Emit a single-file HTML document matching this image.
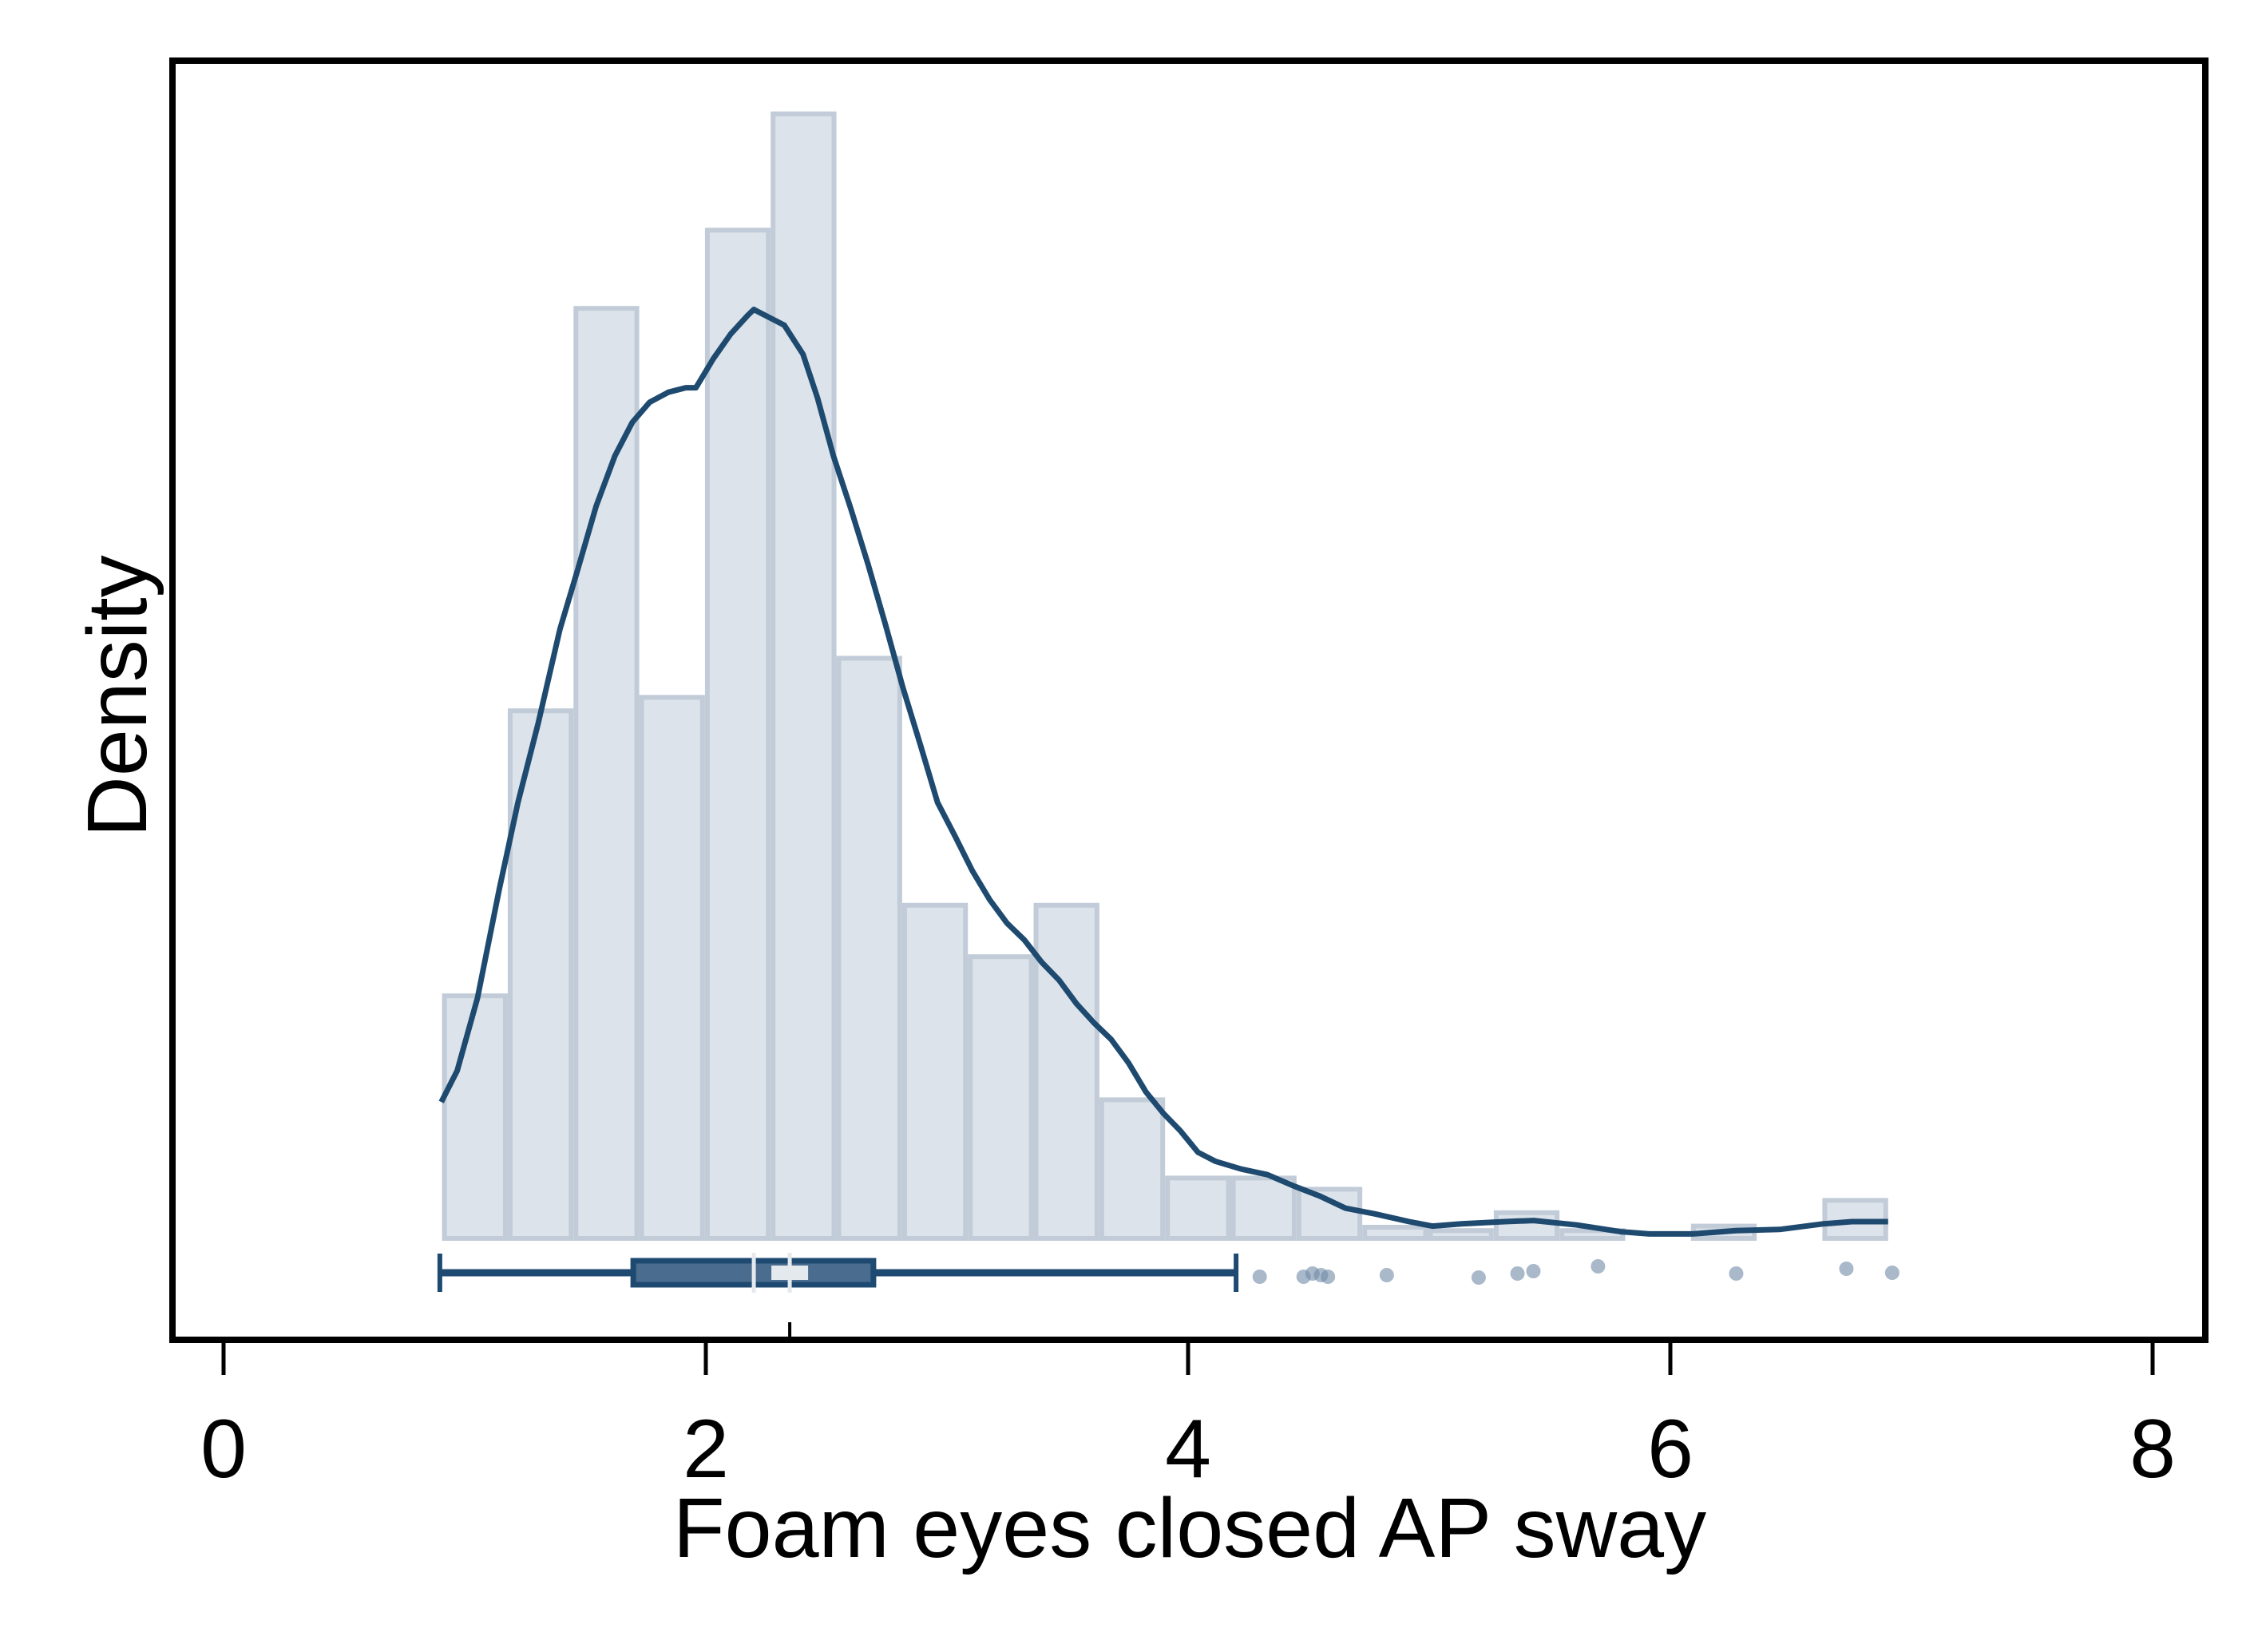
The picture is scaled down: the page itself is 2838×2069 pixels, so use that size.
<!DOCTYPE html>
<html><head><meta charset="utf-8"><style>
html,body{margin:0;padding:0;background:#fff;}
svg text{font-family:"Liberation Sans",sans-serif;fill:#000;}
</style></head><body>
<svg id="chart" width="2838" height="2064" viewBox="0 0 2838 2064" xmlns="http://www.w3.org/2000/svg">
<rect x="0" y="0" width="2838" height="2064" fill="#fff"/>
<g id="bars"></g>
<g id="kde"></g>
<g id="box"></g>
<g id="axes"></g>
<rect x="216" y="76" width="2546" height="1602" fill="none" stroke="#000" stroke-width="8"/>
<text x="1490" y="1950" font-size="106" text-anchor="middle">Foam eyes closed AP sway</text>
<text x="0" y="0" font-size="106" text-anchor="middle" transform="translate(183,872) rotate(-90)">Density</text>
</svg>
<script>
const binStart = 0.906;
const binWidth = 0.2726;
const binHeights = [21.7,47.2,83.2,48.4,90.2,100.6,51.9,29.8,25.2,29.8,12.4,5.4,5.4,4.4,1.0,0.7,2.3,0.7,0,1.1,0,3.4];
const kdeX = [0.903,0.969,1.053,1.143,1.221,1.305,1.395,1.467,1.545,1.623,1.695,1.767,1.845,1.917,1.959,2.031,2.103,2.175,2.199,2.271,2.325,2.403,2.463,2.529,2.601,2.673,2.745,2.817,2.889,2.961,3.033,3.105,3.177,3.249,3.321,3.393,3.465,3.537,3.609,3.681,3.753,3.825,3.897,3.969,4.041,4.113,4.221,4.329,4.437,4.545,4.653,4.773,4.917,5.013,5.133,5.313,5.433,5.613,5.793,5.913,6.093,6.273,6.453,6.633,6.753,6.903];
const kdeY = [12.2,15.0,21.5,31.2,39.0,46.1,54.5,59.7,65.5,70.0,73.0,74.8,75.7,76.1,76.1,78.7,80.9,82.6,83.1,82.3,81.7,79.1,75.2,70.0,65.3,60.3,54.9,49.3,44.2,39.0,36.0,32.9,30.3,28.2,26.7,24.7,23.1,21.0,19.3,17.8,15.7,13.1,11.2,9.6,7.7,6.9,6.2,5.7,4.7,3.8,2.7,2.2,1.5,1.1,1.3,1.5,1.6,1.2,0.6,0.4,0.4,0.7,0.8,1.3,1.5,1.5];
const boxStats = [0.897,1.699,2.199,2.695,4.199];
const meanValue = 2.348;
const outliers = [4.297,4.479,4.516,4.551,4.580,4.824,5.205,5.366,5.432,5.700,6.273,6.730,6.920];
const outlierJitter = [5,5,1,3,5,3,6,1,-2,-8,1,-5,0];
const xTicks = [0,2,4,6,8];

const NS = "http://www.w3.org/2000/svg";
const xs = v => 280 + v * 302;
const ys = v => 1551 - v * 14;
function mk(tag, attrs, parent){const e=document.createElementNS(NS,tag);for(const k in attrs)e.setAttribute(k,attrs[k]);parent.appendChild(e);return e;}

const gb = document.getElementById('bars');
binHeights.forEach((h,i)=>{
  if(h<=0) return;
  const x0 = xs(binStart + i*binWidth), x1 = xs(binStart+(i+1)*binWidth);
  const r = mk('rect',{x:x0+3,y:ys(h),width:x1-x0-6,height:ys(0)-ys(h),fill:'#dce3ea',stroke:'#c1ccd8','stroke-width':6},gb);
  
  
});

const gk = document.getElementById('kde');
let d = kdeX.map((x,i)=>(i?'L':'M')+xs(x).toFixed(1)+' '+ys(kdeY[i]).toFixed(1)).join(' ');
const p = mk('path',{d:d,fill:'none',stroke:'#1f4a70','stroke-width':7,'stroke-linejoin':'round'},gk);



const gx = document.getElementById('box');
const yc = 1594;
const w = mk('line',{x1:xs(boxStats[0]),x2:xs(boxStats[4]),y1:yc,y2:yc,stroke:'#1e4a72','stroke-width':9},gx);


[boxStats[0],boxStats[4]].forEach(v=>{
  const c = mk('line',{x1:xs(v),x2:xs(v),y1:yc-24,y2:yc+24,stroke:'#1e4a72','stroke-width':6},gx);
  
  
});
const bx = mk('rect',{x:xs(boxStats[1]),y:yc-15,width:xs(boxStats[3])-xs(boxStats[1]),height:30,fill:'#4a6c8e',stroke:'#1e4a72','stroke-width':7},gx);


[boxStats[2],meanValue].forEach(v=>{
  const m = mk('line',{x1:xs(v),x2:xs(v),y1:yc-25,y2:yc+25,stroke:'#e4e9ee','stroke-width':5},gx);
  
  
});
const mm = mk('rect',{x:xs(meanValue)-23,y:yc-9,width:46,height:18,fill:'#e4e9ee'},gx);


outliers.forEach((v,i)=>{
  const c = mk('circle',{cx:xs(v),cy:yc+outlierJitter[i],r:9,fill:'#6f8aa6','fill-opacity':0.6},gx);
  
  
});

const ga = document.getElementById('axes');
const mt = mk('line',{x1:xs(meanValue),x2:xs(meanValue),y1:1656,y2:1676,stroke:'#000','stroke-width':4},ga);


xTicks.forEach(t=>{
  const l = mk('line',{x1:xs(t),x2:xs(t),y1:1680,y2:1722,stroke:'#000','stroke-width':5},ga);
  
  
  const tx = mk('text',{x:xs(t),y:1850,'font-size':104,'text-anchor':'middle'},ga);
  tx.textContent = t;
  
  
});
</script>
</body></html>
